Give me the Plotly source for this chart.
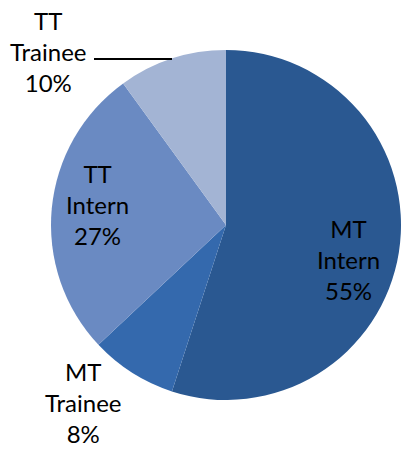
import plotly.graph_objects as go

labels = ["MT Intern", "MT Trainee", "TT Intern", "TT Trainee"]
values = [55, 8, 27, 10]
colors = ["#2A5891", "#3469AD", "#6A8AC2", "#A3B4D4"]

# label block centres (pixels in the 401x450 image)
label_pos = {
    "MT Intern": (348, 259),
    "MT Trainee": (83, 402),
    "TT Intern": (97, 204),
    "TT Trainee": (48, 52),
}

W, H = 401, 450

fig = go.Figure(
    go.Pie(
        labels=labels,
        values=values,
        sort=False,
        direction="clockwise",
        rotation=0,
        textinfo="none",
        hoverinfo="label+percent",
        marker=dict(colors=colors, line=dict(width=0)),
        domain=dict(x=[51 / W, 1.0], y=[1 - 400 / H, 1 - 50 / H]),
        showlegend=False,
    )
)

total = sum(values)
for lab, val in zip(labels, values):
    px, py = label_pos[lab]
    first, second = lab.split(" ")
    fig.add_annotation(
        x=px / W, y=1 - py / H, xref="paper", yref="paper",
        text=f"{first}<br>{second}<br>{round(100 * val / total)}%",
        showarrow=False, xanchor="center", yanchor="middle",
        font=dict(size=24, color="#000000", family="Lato"),
    )

# leader line for TT Trainee
fig.add_shape(type="line", xref="paper", yref="paper",
              x0=94 / W, x1=172 / W, y0=1 - 59 / H, y1=1 - 59 / H,
              line=dict(color="#000000", width=2))

fig.update_layout(
    width=W, height=H,
    margin=dict(l=0, r=0, t=0, b=0),
    paper_bgcolor="white",
    plot_bgcolor="white",
)

# drop the browser's default body margin so the figure sits at 0,0
fig.write_html("out.html", config={"displayModeBar": False},
               post_script="document.body.style.margin='0';")
